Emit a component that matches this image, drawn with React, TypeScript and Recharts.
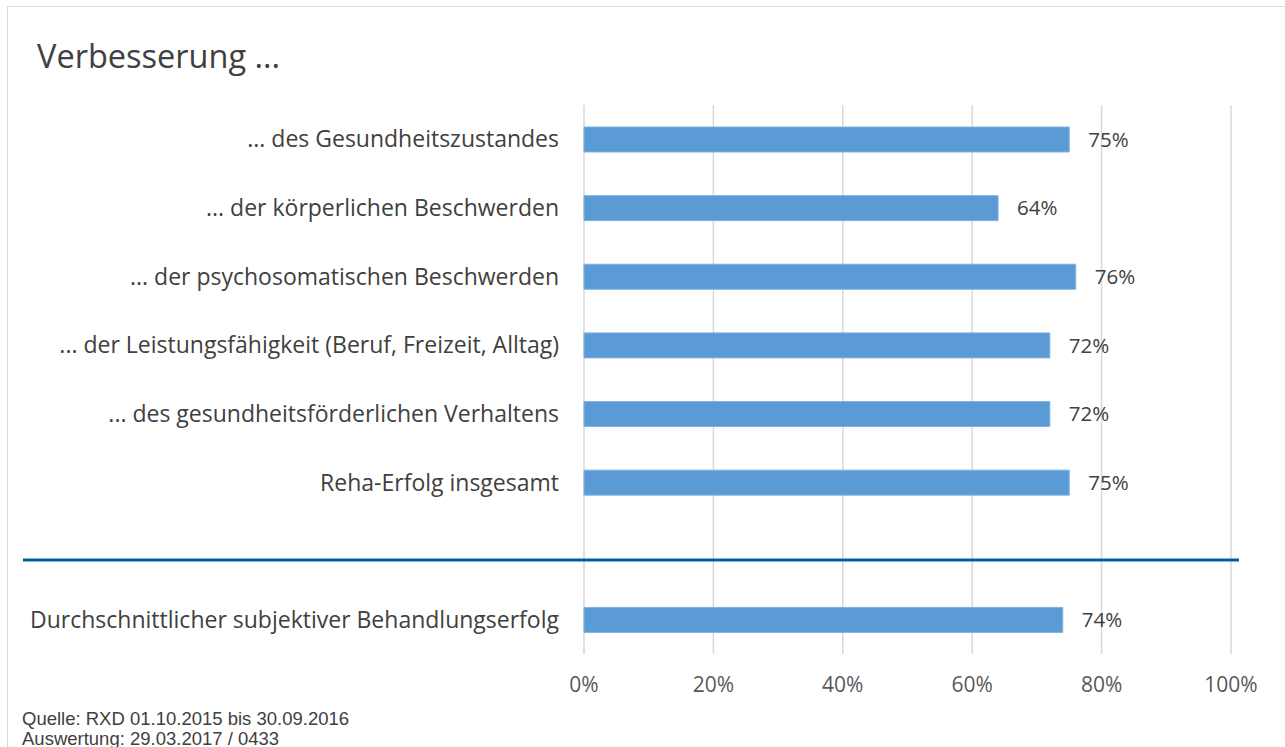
import React from 'react';
import { BarChart, Bar, XAxis, YAxis, CartesianGrid, LabelList, ReferenceLine } from 'recharts';

const categories = [
  '... des Gesundheitszustandes',
  '... der körperlichen Beschwerden',
  '... der psychosomatischen Beschwerden',
  '... der Leistungsfähigkeit (Beruf, Freizeit, Alltag)',
  '... des gesundheitsförderlichen Verhaltens',
  'Reha-Erfolg insgesamt',
  ' ',
  'Durchschnittlicher subjektiver Behandlungserfolg',
];
const values: (number | null)[] = [0.75, 0.64, 0.76, 0.72, 0.72, 0.75, null, 0.74];
const xTicks = [0, 0.2, 0.4, 0.6, 0.8, 1];
const title = 'Verbesserung ...';
const sourceLines = ['Quelle: RXD 01.10.2015 bis 30.09.2016', 'Auswertung: 29.03.2017 / 0433'];

const data = categories.map((c, i) => ({ name: c, value: values[i] }));
const pct = (v: any) => (v === null || v === undefined ? '' : `${Math.round(Number(v) * 100)}%`);

const SepLine = (props: any) => {
  const y = props.y1 + 9;
  return <line x1={23} x2={1239} y1={y} y2={y} stroke="#00609C" strokeWidth={3} />;
};

export default function App() {
  return (
    <div style={{ position: 'fixed', left: 0, top: 0, width: 1285, height: 747, background: '#fff', overflow: 'hidden' }}>
      <div style={{ position: 'absolute', left: 7, top: 6, width: 1300, height: 800, border: '1.5px solid #d9d9d9', boxSizing: 'border-box' }} />
      <div style={{ position: 'absolute', left: 37, top: 34, fontFamily: '"Open Sans", sans-serif', fontSize: 32.5, lineHeight: '44px', color: '#404040', whiteSpace: 'nowrap' }}>{title}</div>
      <div style={{ position: 'absolute', left: 0, top: 0 }}>
        <BarChart width={1285} height={747} data={data} layout="vertical" margin={{ top: 105, bottom: 63, left: 0, right: 54 }}>
          <CartesianGrid horizontal={false} vertical stroke="#d9d9d9" strokeWidth={1.5} />
          <XAxis type="number" domain={[0, 1]} ticks={xTicks} tickFormatter={pct} axisLine={false} tickLine={false} tickSize={0} tickMargin={23} height={30}
            tick={{ fontFamily: '"Open Sans", sans-serif', fontSize: 21, fill: '#595959' }} interval={0} />
          <YAxis type="category" dataKey="name" width={584} axisLine={false} tickLine={false} tickSize={0} tickMargin={25} interval={0}
            tick={{ fontFamily: '"Open Sans", sans-serif', fontSize: 23, fill: '#404040' }} />
          <Bar dataKey="value" fill="#5B9BD5" stroke="#7FB3E3" strokeWidth={1} barSize={25} isAnimationActive={false}>
            <LabelList dataKey="value" position="right" offset={19} formatter={pct}
              style={{ fontFamily: '"Open Sans", sans-serif', fontSize: 20.5, fill: '#404040' }} />
          </Bar>
          <ReferenceLine y=" " shape={SepLine} ifOverflow="visible" />
        </BarChart>
      </div>
      <div style={{ position: 'absolute', left: 22, top: 709, fontFamily: '"Liberation Sans", Arial, sans-serif', fontSize: 18.5, lineHeight: '20px', color: '#404040', whiteSpace: 'nowrap' }}>
        {sourceLines.map((l) => <div key={l}>{l}</div>)}
      </div>
    </div>
  );
}
